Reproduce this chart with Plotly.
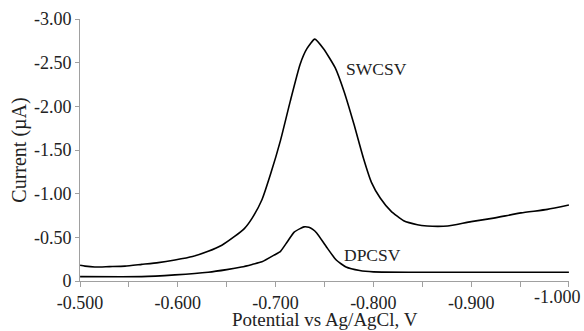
import plotly.graph_objects as go

sw_x = [-0.500, -0.505, -0.515, -0.530, -0.546, -0.563, -0.580, -0.597, -0.615, -0.631,
        -0.645, -0.658, -0.668, -0.676, -0.686, -0.695, -0.705, -0.715, -0.725, -0.732,
        -0.740, -0.749, -0.761, -0.770, -0.780, -0.790, -0.798, -0.807, -0.818, -0.831,
        -0.845, -0.855, -0.866, -0.876, -0.900, -0.923, -0.951, -0.978, -1.000]
sw_y = [-0.18, -0.17, -0.16, -0.165, -0.17, -0.19, -0.21, -0.24, -0.28, -0.34,
        -0.41, -0.51, -0.60, -0.72, -0.93, -1.23, -1.61, -2.06, -2.48, -2.66,
        -2.77, -2.66, -2.44, -2.17, -1.80, -1.40, -1.13, -0.95, -0.80, -0.69,
        -0.645, -0.63, -0.625, -0.63, -0.68, -0.72, -0.78, -0.82, -0.87]

dp_x = [-0.500, -0.563, -0.597, -0.631, -0.650, -0.665, -0.676, -0.686, -0.699, -0.705,
        -0.712, -0.719, -0.725, -0.729, -0.734, -0.738, -0.742, -0.752, -0.762, -0.772,
        -0.786, -0.800, -0.850, -0.900, -0.950, -1.000]
dp_y = [-0.05, -0.05, -0.07, -0.10, -0.13, -0.16, -0.19, -0.22, -0.30, -0.34,
        -0.45, -0.56, -0.60, -0.62, -0.615, -0.59, -0.55, -0.39, -0.24, -0.16,
        -0.12, -0.105, -0.10, -0.10, -0.10, -0.10]

y_ticks = [0, -0.5, -1.0, -1.5, -2.0, -2.5, -3.0]
y_labels = ["0", "-0.50", "-1.00", "-1.50", "-2.00", "-2.50", "-3.00"]
x_ticks = [-0.5, -0.6, -0.7, -0.8, -0.9, -1.0]
x_labels = ["-0.500", "-0.600", "-0.700", "-0.800", "-0.900", ""]
x_last_label = "-1.000"
x_minor = [-0.55, -0.65, -0.75, -0.85, -0.95]
x_title = "Potential vs Ag/AgCl, V"
y_title = "Current (µA)"

font = "Liberation Serif"
txt = "#222222"
axis_col = "#a0a0a0"

fig = go.Figure()
fig.add_trace(go.Scatter(x=sw_x, y=sw_y, mode="lines", line=dict(color="black", width=1.6, shape="spline", smoothing=0.5), name="SWCSV"))
fig.add_trace(go.Scatter(x=dp_x, y=dp_y, mode="lines", line=dict(color="black", width=1.6, shape="spline", smoothing=0.5), name="DPCSV"))

fig.add_annotation(x=-0.803, y=-2.43, text="SWCSV", showarrow=False, font=dict(family=font, size=17.5, color=txt))
fig.add_annotation(x=-0.799, y=-0.30, text="DPCSV", showarrow=False, font=dict(family=font, size=17.5, color=txt))
fig.add_annotation(x=x_ticks[-1], xref="x", y=0, yref="paper", text=x_last_label, showarrow=False,
                   xanchor="right", yanchor="top", xshift=14, yshift=-4,
                   font=dict(family=font, size=18, color=txt))
fig.add_annotation(x=0.5, xref="paper", y=0, yref="paper", text=x_title, showarrow=False,
                   xanchor="center", yanchor="top", yshift=-26,
                   font=dict(family=font, size=19, color=txt))

fig.update_layout(
    width=584, height=331,
    margin=dict(l=80, r=15, t=19, b=50),
    paper_bgcolor="white", plot_bgcolor="white",
    showlegend=False,
    font=dict(family=font, size=18, color=txt),
)
fig.update_xaxes(
    range=[-0.4999, -1.0001], tickvals=x_ticks, ticktext=x_labels, automargin=False,
    showgrid=False, zeroline=False, showline=True, linecolor=axis_col, linewidth=1,
    ticks="outside", ticklen=5, tickcolor=axis_col,
    minor=dict(tickvals=x_minor, ticks="outside", ticklen=5, tickcolor=axis_col, showgrid=False),
    tickfont=dict(family=font, size=18, color=txt),
)
fig.update_yaxes(
    range=[0, -3.0], tickvals=y_ticks, ticktext=y_labels, automargin=False,
    showgrid=False, zeroline=False, showline=True, linecolor=axis_col, linewidth=1,
    ticks="outside", ticklen=4, tickcolor=axis_col,
    title=dict(text=y_title, font=dict(family=font, size=20, color=txt), standoff=1),
    tickfont=dict(family=font, size=18, color=txt),
)

fig.write_html("out.html")
